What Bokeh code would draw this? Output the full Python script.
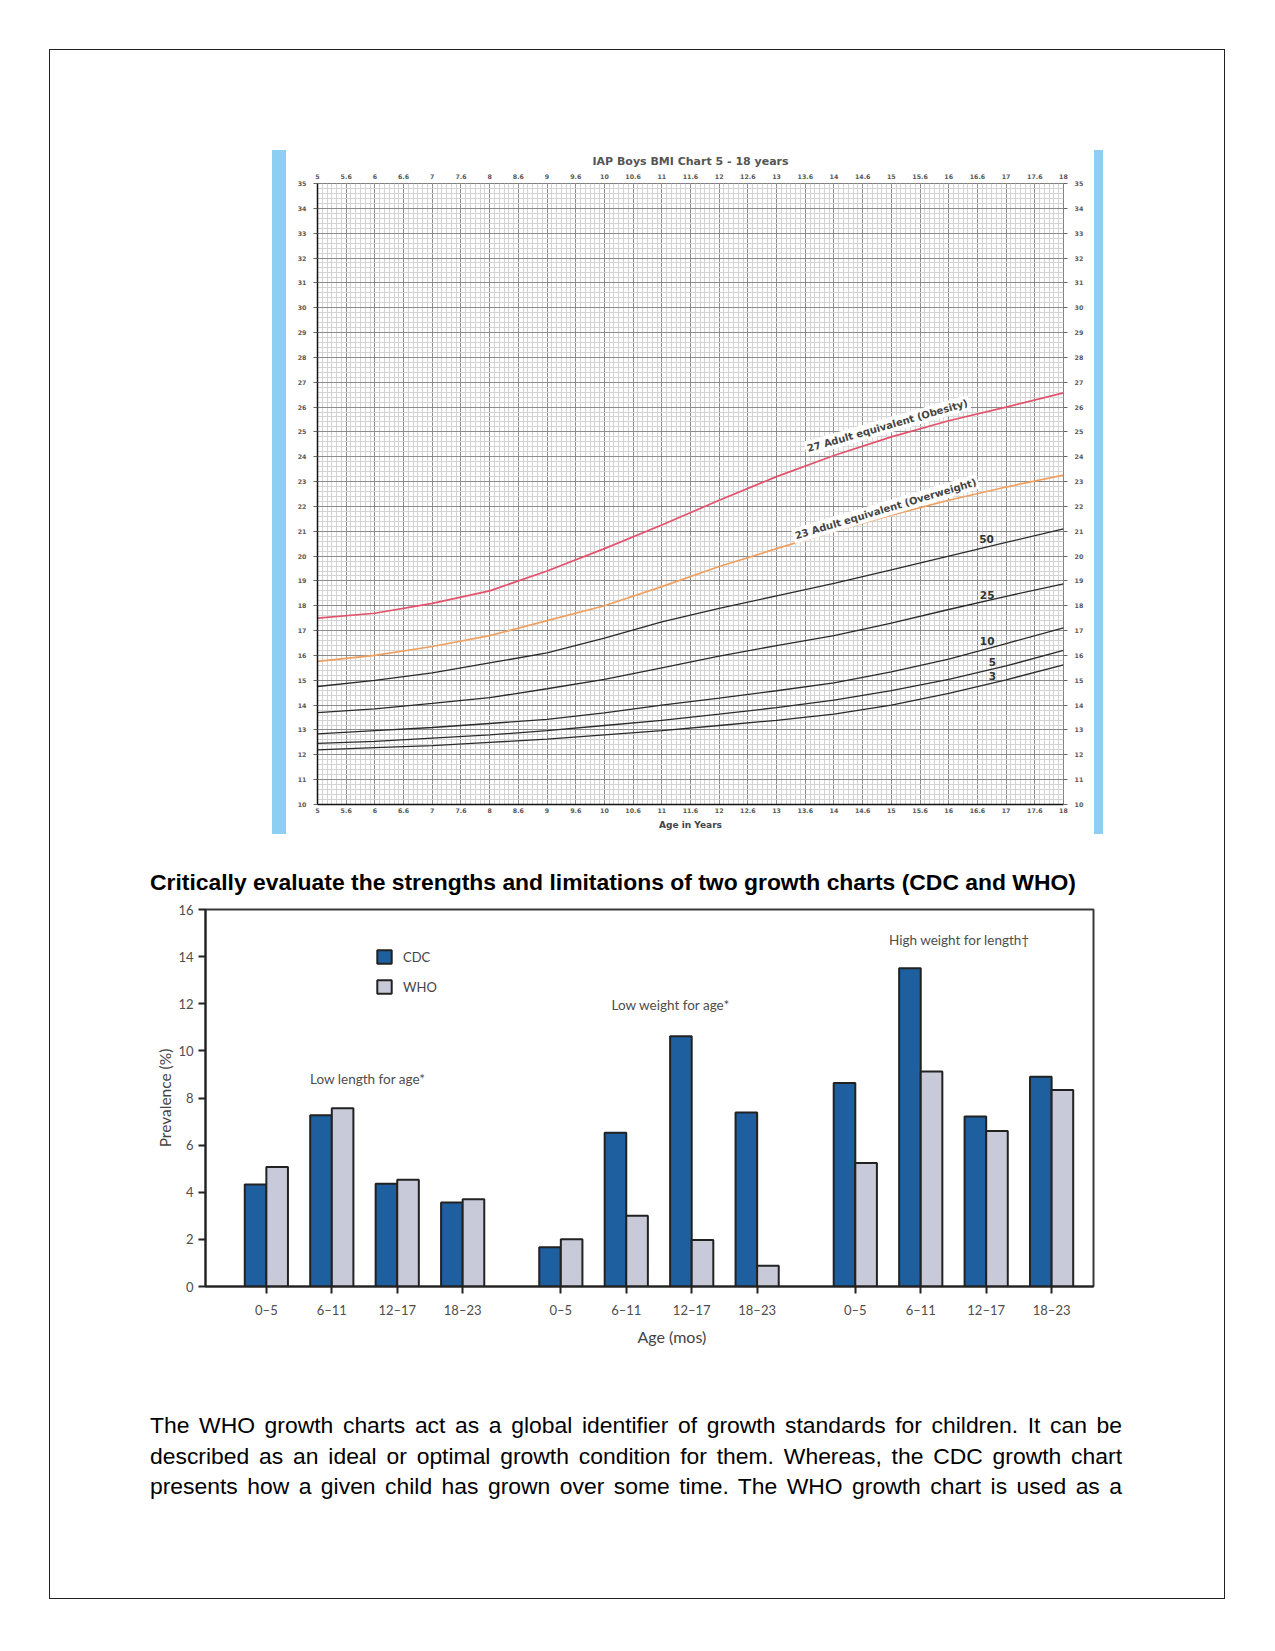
from bokeh.plotting import figure
from bokeh.models import (Range1d, FixedTicker, SingleIntervalTicker, LinearAxis, Label, Title,
                          Legend, LegendItem, ColumnDataSource, Div, Spacer)
from bokeh.layouts import column, row
from bokeh.transform import dodge
from bokeh.embed import file_html
from bokeh.resources import INLINE

# ---------------- data: IAP boys BMI chart ----------------
bmi_title = "IAP Boys BMI Chart 5 - 18 years"
bmi_age = [5, 6, 7, 8, 9, 10, 11, 12, 13, 14, 15, 16, 17, 18]
bmi_adult27 = [17.5, 17.7, 18.1, 18.6, 19.4, 20.3, 21.25, 22.25, 23.2, 24.05, 24.8, 25.45, 26.0, 26.57]
bmi_adult23 = [15.76, 16.0, 16.36, 16.8, 17.4, 18.0, 18.77, 19.58, 20.3, 21.0, 21.65, 22.25, 22.78, 23.26]
bmi_p50 = [14.75, 15.0, 15.3, 15.7, 16.1, 16.7, 17.35, 17.9, 18.4, 18.9, 19.45, 20.0, 20.55, 21.1]
bmi_p25 = [13.7, 13.85, 14.07, 14.3, 14.66, 15.04, 15.5, 15.97, 16.4, 16.8, 17.3, 17.85, 18.38, 18.88]
bmi_p10 = [12.84, 12.97, 13.1, 13.26, 13.43, 13.69, 14.0, 14.28, 14.58, 14.9, 15.34, 15.85, 16.48, 17.11]
bmi_p5 = [12.46, 12.54, 12.67, 12.8, 12.97, 13.18, 13.39, 13.64, 13.9, 14.2, 14.58, 15.04, 15.58, 16.2]
bmi_p3 = [12.2, 12.29, 12.37, 12.5, 12.63, 12.8, 12.97, 13.18, 13.39, 13.64, 14.0, 14.47, 15.02, 15.62]
percentile_labels = ["50", "25", "10", "5", "3"]
adult_labels = ["27 Adult equivalent (Obesity)", "23 Adult equivalent (Overweight)"]
age_tick_values = [5, 5.5, 6, 6.5, 7, 7.5, 8, 8.5, 9, 9.5, 10, 10.5, 11, 11.5, 12,
                   12.5, 13, 13.5, 14, 14.5, 15, 15.5, 16, 16.5, 17, 17.5, 18]
age_tick_labels = ["5", "5.6", "6", "6.6", "7", "7.6", "8", "8.6", "9", "9.6", "10", "10.6",
                   "11", "11.6", "12", "12.6", "13", "13.6", "14", "14.6", "15", "15.6",
                   "16", "16.6", "17", "17.6", "18"]
bmi_tick_values = [10, 11, 12, 13, 14, 15, 16, 17, 18, 19, 20, 21, 22, 23, 24, 25, 26, 27,
                   28, 29, 30, 31, 32, 33, 34, 35]

# ---------------- data: CDC vs WHO prevalence ----------------
heading = "Critically evaluate the strengths and limitations of two growth charts (CDC and WHO)"
age_groups = ["0\u20135", "6\u201311", "12\u201317", "18\u201323"]
indicators = ["Low length for age*", "Low weight for age*", "High weight for length\u2020"]
cdc_prev = [4.33, 7.27, 4.36, 3.56, 1.67, 6.53, 10.62, 7.38, 8.64, 13.51, 7.21, 8.90]
who_prev = [5.07, 7.56, 4.53, 3.70, 2.01, 3.00, 1.97, 0.88, 5.24, 9.12, 6.60, 8.34]
prev_ticks = [0, 2, 4, 6, 8, 10, 12, 14, 16]

paragraph_lines = [
    "The WHO growth charts act as a global identifier of growth standards for children. It can be",
    "described as an ideal or optimal growth condition for them. Whereas, the CDC growth chart",
    "presents how a given child has grown over some time. The WHO growth chart is used as a",
]

# ======================= BMI chart =======================
bmi = figure(frame_width=746, frame_height=621, x_range=Range1d(5, 18), y_range=Range1d(10, 35),
             min_border_left=31, min_border_right=31, min_border_top=33, min_border_bottom=30,
             output_backend="svg", toolbar_location=None, title=bmi_title,
             background_fill_color="white", border_fill_color="white")
bmi.title.align = "center"
bmi.title.text_font = "DejaVu Sans"
bmi.title.text_font_size = "11px"
bmi.title.text_font_style = "bold"
bmi.title.text_color = "#555555"
bmi.title.standoff = 5

bmi.add_layout(LinearAxis(), "above")
bmi.add_layout(LinearAxis(), "right")
bmi.xaxis.ticker = FixedTicker(ticks=age_tick_values)
bmi.xaxis.major_label_overrides = {float(v): t for v, t in zip(age_tick_values, age_tick_labels)}
bmi.yaxis.ticker = FixedTicker(ticks=bmi_tick_values)
for ax in list(bmi.xaxis) + list(bmi.yaxis):
    ax.major_label_text_font = "DejaVu Sans"
    ax.major_label_text_font_size = "6.3px"
    ax.major_label_text_font_style = "bold"
    ax.major_label_text_color = "#5a5a5a"
    ax.minor_tick_out = 0
    ax.minor_tick_in = 0
    ax.major_tick_in = 0
    ax.major_tick_line_color = "#666666"
for ax in bmi.xaxis:
    ax.major_tick_out = 0
bmi.above[0].major_label_standoff = 5
bmi.below[0].major_label_standoff = 3
for ax in bmi.yaxis:
    ax.major_tick_out = 4
    ax.major_label_standoff = 7
bmi.above[0].axis_line_color = None
bmi.right[0].axis_line_color = None
bmi.below[0].axis_line_color = "#111111"
bmi.below[0].axis_line_width = 1.5
bmi.left[0].axis_line_color = "#111111"
bmi.left[0].axis_line_width = 1.5
bmi.below[0].axis_label = "Age in Years"
bmi.below[0].axis_label_text_font = "DejaVu Sans"
bmi.below[0].axis_label_text_font_size = "9px"
bmi.below[0].axis_label_text_font_style = "bold"
bmi.below[0].axis_label_text_color = "#444444"
bmi.below[0].axis_label_standoff = 4

bmi.xgrid.ticker = SingleIntervalTicker(interval=0.5, num_minor_ticks=6)
bmi.ygrid.ticker = SingleIntervalTicker(interval=1, num_minor_ticks=5)
for g in (bmi.xgrid[0], bmi.ygrid[0]):
    g.grid_line_color = "#8c8c8c"
    g.grid_line_width = 1
    g.minor_grid_line_color = "#d3d3d3"
    g.minor_grid_line_width = 1
bmi.outline_line_color = "#808080"

bsrc = ColumnDataSource(dict(age=bmi_age, a27=bmi_adult27, a23=bmi_adult23, p50=bmi_p50,
                             p25=bmi_p25, p10=bmi_p10, p5=bmi_p5, p3=bmi_p3))
for col in ["p3", "p5", "p10", "p25", "p50"]:
    bmi.line("age", col, source=bsrc, line_color="#2b2b2b", line_width=1.3)
bmi.line("age", "a23", source=bsrc, line_color="#f0a060", line_width=1.7)
bmi.line("age", "a27", source=bsrc, line_color="#e4526c", line_width=1.7)

pl_pos = [(16.66, 20.68), (16.67, 18.45), (16.67, 16.6), (16.76, 15.72), (16.76, 15.19)]
for txt, (lx, ly) in zip(percentile_labels, pl_pos):
    bmi.add_layout(Label(x=lx, y=ly, text=txt, text_align="center", text_baseline="middle",
                         text_font="DejaVu Sans", text_font_size="10.5px", text_font_style="bold",
                         text_color="#333333"))
for txt, (lx, ly, ang) in zip(adult_labels, [(14.93, 25.25, 0.28), (14.9, 21.9, 0.29)]):
    bmi.add_layout(Label(x=lx, y=ly, text=txt, angle=ang, text_align="center", text_baseline="middle",
                         text_font="DejaVu Sans", text_font_size="10px", text_font_style="bold",
                         text_color="#444444", background_fill_color="white", padding=2))

# ======================= bar chart =======================
bar_pos = [g * 4.5 + i for g in range(len(indicators)) for i in range(len(age_groups))]
bar = figure(frame_width=888, frame_height=377, x_range=Range1d(-0.93, 12.64), y_range=Range1d(0, 16),
             min_border_left=55, min_border_right=7, min_border_top=14, min_border_bottom=74,
             output_backend="svg", toolbar_location=None, background_fill_color="white",
             border_fill_color="white")
bar.grid.visible = False
bar.outline_line_color = "#3a3a3a"
bar.outline_line_width = 2

src = ColumnDataSource(dict(pos=bar_pos, cdc=cdc_prev, who=who_prev))
r_cdc = bar.vbar(x=dodge("pos", -0.165), top="cdc", width=0.33, bottom=0, source=src,
                 fill_color="#1d5f9f", line_color="#222222", line_width=2)
r_who = bar.vbar(x=dodge("pos", 0.165), top="who", width=0.33, bottom=0, source=src,
                 fill_color="#c9cad9", line_color="#222222", line_width=2)

xax = bar.xaxis[0]
xax.ticker = FixedTicker(ticks=bar_pos)
xax.major_label_overrides = {float(p): age_groups[i % len(age_groups)] for i, p in enumerate(bar_pos)}
xax.major_label_standoff = 8
yax = bar.yaxis[0]
yax.ticker = FixedTicker(ticks=prev_ticks)
yax.major_label_standoff = 5
yax.axis_label = "Prevalence (%)"
yax.axis_label_text_font = "Lato"
yax.axis_label_text_font_size = "15.5px"
yax.axis_label_text_font_style = "normal"
yax.axis_label_text_color = "#444444"
yax.axis_label_standoff = 1
for ax in (xax, yax):
    ax.axis_line_width = 2
    ax.axis_line_color = "#222222"
    ax.major_tick_out = 7
    ax.major_tick_in = 0
    ax.major_tick_line_width = 2
    ax.major_tick_line_color = "#222222"
    ax.minor_tick_out = 0
    ax.minor_tick_in = 0
    ax.major_label_text_font = "Lato"
    ax.major_label_text_font_size = "13px"
    ax.major_label_text_color = "#4d4d4d"

legend = Legend(items=[LegendItem(label="CDC", renderers=[r_cdc]),
                       LegendItem(label="WHO", renderers=[r_who])],
                location=(170, 291), glyph_width=18, glyph_height=17, label_height=17,
                spacing=13, padding=0, margin=0, border_line_color=None,
                background_fill_alpha=0, label_standoff=10, label_text_font="Lato",
                label_text_font_size="13px", label_text_color="#444444")
bar.add_layout(legend)

for txt, (lx, ly) in zip(indicators, [(1.55, 8.82), (6.18, 11.96), (10.59, 14.72)]):
    bar.add_layout(Label(x=lx, y=ly, text=txt, text_align="center", text_baseline="middle",
                         text_font="Lato", text_font_size="13.5px", text_color="#4d4d4d"))
bar.add_layout(Title(text="Age (mos)", align="left", offset=432, standoff=8,
                     text_font="Lato", text_font_size="16px", text_font_style="normal",
                     text_color="#444444"), "below")

# ======================= page =======================
def sp(w=0, h=0):
    return Spacer(width=w, height=h, margin=0)

blue_l = Div(text="", width=14, height=684, margin=0, styles={"background-color": "#8ccff2"})
blue_r = Div(text="", width=9, height=684, margin=0, styles={"background-color": "#8ccff2"})

heading_div = Div(text=('<div style="font-family:\'Liberation Sans\',Arial,sans-serif;font-weight:bold;'
                        'font-size:22.9px;line-height:26px;color:#000;white-space:nowrap;">'
                        + heading + '</div>'), width=1000, height=26, margin=0)
para_div = Div(text=('<div style="width:972px;font-family:\'Liberation Sans\',Arial,sans-serif;'
                     'font-size:22.9px;line-height:30.5px;color:#000;text-align:justify;'
                     'text-align-last:justify;">' + "<br>".join(paragraph_lines) + '</div>'),
               width=972, height=92, margin=0)

box = column(
    sp(h=100),
    row(sp(w=222), blue_l, bmi, blue_r),
    sp(h=35),
    row(sp(w=100), heading_div),
    row(sp(w=100), bar),
    sp(h=50),
    row(sp(w=100), para_div),
    width=1174, height=1548, styles={"outline": "1px solid #222222"})
page = column(sp(h=50), row(sp(w=50), box))

open("out.html", "w").write(file_html(page, INLINE, title="Growth charts"))
